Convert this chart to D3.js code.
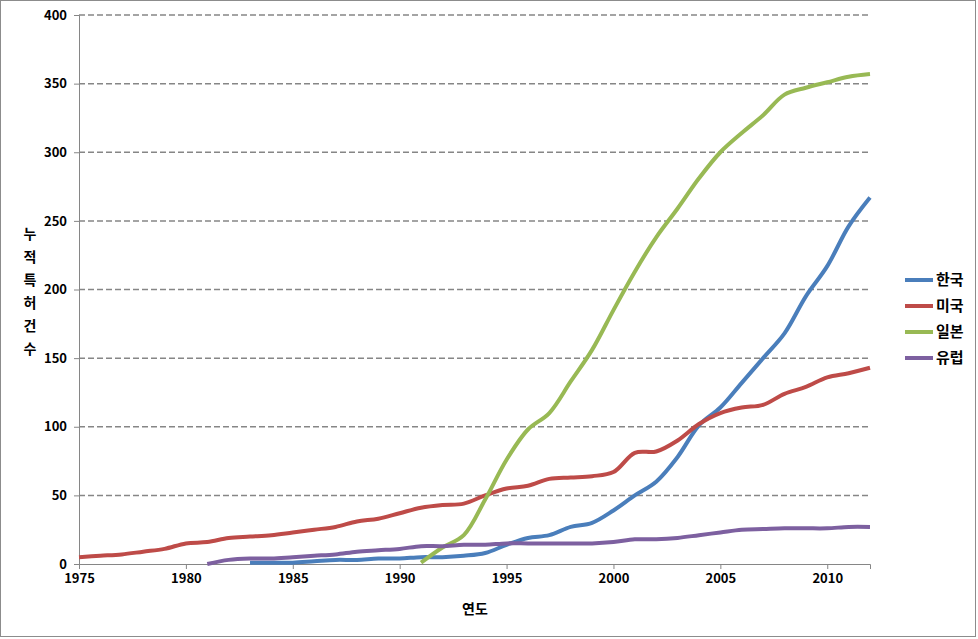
<!DOCTYPE html>
<html>
<head>
<meta charset="utf-8">
<script src="https://cdn.jsdelivr.net/npm/d3@7"></script>
<style>
  body { margin: 0; background: #fff; }
  text { font-family: "Noto Sans CJK KR", "Noto Sans", sans-serif; }
</style>
</head>
<body>
<div id="chart"></div>
<script>
// cumulative patents per year
const years = d3.range(1975, 2013);
const korea = { start: 1983, values: [1, 1, 1, 2, 3, 3, 4, 4, 5, 5, 6, 8, 14, 19, 21, 27, 30, 39, 50, 60, 78, 101, 114, 132, 150, 168, 195, 217, 246, 267] };
const usa = { start: 1975, values: [5, 6, 7, 9, 11, 15, 16, 19, 20, 21, 23, 25, 27, 31, 33, 37, 41, 43, 44, 50, 55, 57, 62, 63, 64, 67, 81, 82, 90, 102, 110, 114, 116, 124, 129, 136, 139, 143] };
const japan = { start: 1991, values: [1, 12, 21, 47, 76, 98, 110, 133, 156, 185, 213, 238, 259, 281, 300, 314, 327, 342, 347, 351, 355, 357] };
const europe = { start: 1981, values: [0, 3, 4, 4, 5, 6, 7, 9, 10, 11, 13, 13, 14, 14, 15, 15, 15, 15, 15, 16, 18, 18, 19, 21, 23, 25, 25.5, 26, 26, 26, 27, 27] };
const seriesNames = ["한국", "미국", "일본", "유럽"];
const seriesColors = ["#4a7ebb", "#be4b48", "#98b954", "#7d60a0"];
const xTicks = [1975, 1980, 1985, 1990, 1995, 2000, 2005, 2010];
const yTicks = [0, 50, 100, 150, 200, 250, 300, 350, 400];

const series = [korea, usa, japan, europe].map((s, i) => ({
    name: seriesNames[i],
    color: seriesColors[i],
    points: s.values.map((v, j) => ({ year: s.start + j, value: v }))
}));

const W = 978, H = 639;
const margin = { top: 15, right: 108, bottom: 75, left: 79 };

const svg = d3.select("#chart").append("svg")
    .attr("width", W)
    .attr("height", H);

// outer frame
svg.append("rect")
    .attr("x", 0.5).attr("y", 0.5)
    .attr("width", 975).attr("height", 636)
    .attr("fill", "none")
    .attr("stroke", "#8c8c8c");

const x = d3.scaleLinear().domain([1975, 2012]).range([margin.left, W - margin.right]);
const y = d3.scaleLinear().domain([0, 400]).range([H - margin.bottom, margin.top]);

// dashed gridlines
svg.append("g")
    .selectAll("line")
    .data(yTicks.filter(d => d > 0))
    .enter()
    .append("line")
    .attr("x1", x(1975)).attr("x2", x(2012))
    .attr("y1", d => y(d)).attr("y2", d => y(d))
    .attr("stroke", "#868686")
    .attr("stroke-width", 1.5)
    .attr("stroke-dasharray", "6,3");

// y axis
const yAxis = svg.append("g")
    .attr("transform", "translate(" + x(1975) + ",0)")
    .call(d3.axisLeft(y).tickValues(yTicks).tickSize(5).tickPadding(7));
yAxis.select(".domain").attr("stroke", "#868686");
yAxis.selectAll(".tick line").attr("stroke", "#868686");
yAxis.selectAll("text")
    .style("font-size", "13px")
    .style("font-weight", "bold")
    .attr("fill", "#000");

// x axis
const xAxis = svg.append("g")
    .attr("transform", "translate(0," + y(0) + ")")
    .call(d3.axisBottom(x).tickValues(xTicks).tickFormat(d3.format("d")).tickSize(5).tickPadding(5));
xAxis.select(".domain").attr("stroke", "#868686");
xAxis.selectAll(".tick line").attr("stroke", "#868686");
xAxis.selectAll("text")
    .style("font-size", "13px")
    .style("font-weight", "bold")
    .attr("fill", "#000");

// lines
const line = d3.line()
    .x(d => x(d.year))
    .y(d => y(d.value))
    .curve(d3.curveCatmullRom.alpha(0.5));

svg.append("g")
    .selectAll("path")
    .data(series)
    .enter()
    .append("path")
    .attr("d", d => line(d.points))
    .attr("fill", "none")
    .attr("stroke", d => d.color)
    .attr("stroke-width", 4)
    .attr("stroke-linejoin", "round");

// y title, stacked characters
svg.append("text")
    .selectAll("tspan")
    .data("누적특허건수".split(""))
    .enter()
    .append("tspan")
    .attr("x", 30)
    .attr("y", (d, i) => 239 + i * 23)
    .style("text-anchor", "middle")
    .style("font-size", "14px")
    .style("font-weight", "bold")
    .text(d => d);

// x title
svg.append("text")
    .attr("x", 475)
    .attr("y", 614)
    .style("text-anchor", "middle")
    .style("font-size", "14px")
    .style("font-weight", "bold")
    .text("연도");

// legend
const legend = svg.append("g")
    .selectAll("g")
    .data(series)
    .enter()
    .append("g")
    .attr("transform", (d, i) => "translate(905," + (280 + i * 26) + ")");

legend.append("line")
    .attr("x1", 0).attr("x2", 28)
    .attr("stroke", d => d.color)
    .attr("stroke-width", 4);

legend.append("text")
    .attr("x", 31)
    .attr("dy", "0.36em")
    .style("font-size", "15px")
    .style("font-weight", "bold")
    .text(d => d.name);
</script>
</body>
</html>
